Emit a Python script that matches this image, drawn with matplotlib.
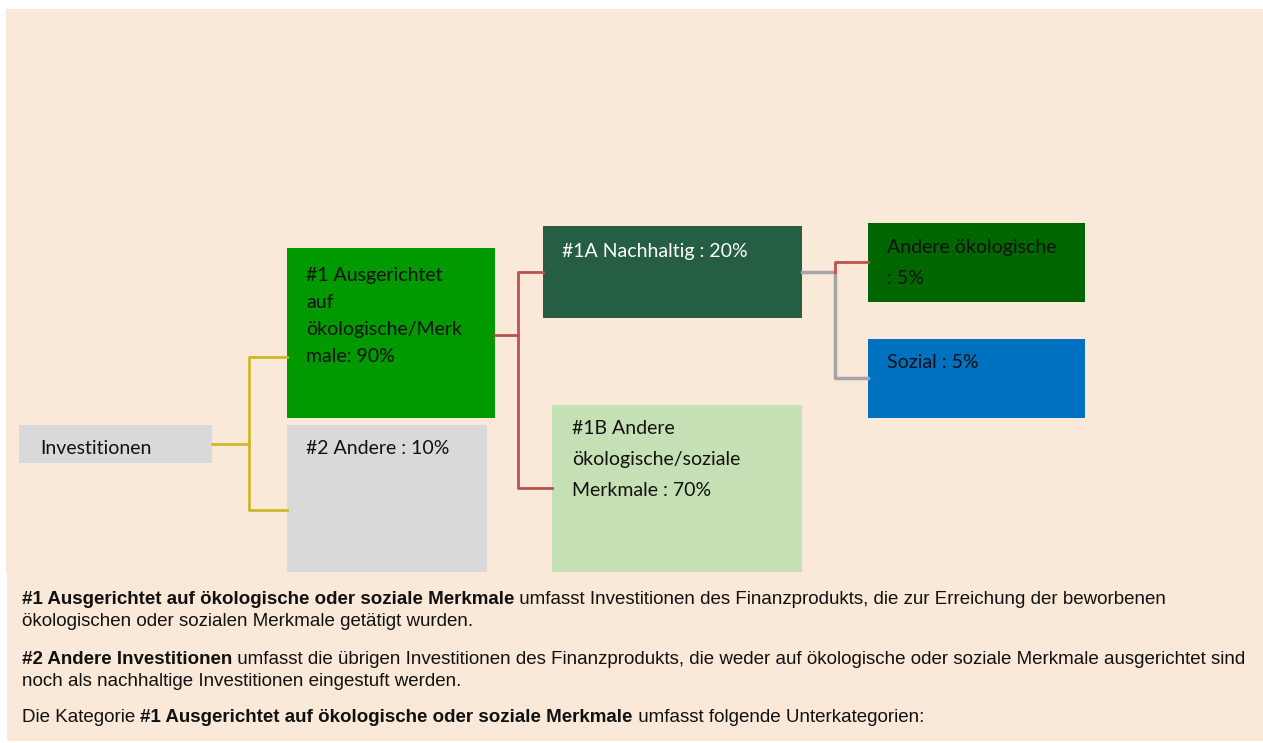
import matplotlib
matplotlib.use("Agg")
import matplotlib.pyplot as plt
from matplotlib.patches import Rectangle

# --- content -------------------------------------------------------------
box_labels = [
    "Investitionen",
    "#1 Ausgerichtet\nauf\nökologische/Merk\nmale: 90%",
    "#2 Andere : 10%",
    "#1A Nachhaltig : 20%",
    "#1B Andere\nökologische/soziale\nMerkmale : 70%",
    "Andere ökologische\n: 5%",
    "Sozial : 5%",
]
box_colors = ["#D9D9D9", "#009900", "#D9D9D9", "#255E43", "#C5E0B4", "#006600", "#0070C0"]
text_colors = ["#111111", "#111111", "#111111", "#FFFFFF", "#111111", "#111111", "#111111"]

# explanatory paragraphs: list of (text, bold) runs per line
notes = [
    [("#1 Ausgerichtet auf ökologische oder soziale Merkmale", True),
     (" umfasst Investitionen des Finanzprodukts, die zur Erreichung der beworbenen", False)],
    [("ökologischen oder sozialen Merkmale getätigt wurden.", False)],
    [("#2 Andere Investitionen", True),
     (" umfasst die übrigen Investitionen des Finanzprodukts, die weder auf ökologische oder soziale Merkmale ausgerichtet sind", False)],
    [("noch als nachhaltige Investitionen eingestuft werden.", False)],
    [("Die Kategorie ", False),
     ("#1 Ausgerichtet auf ökologische oder soziale Merkmale", True),
     (" umfasst folgende Unterkategorien:", False)],
]

# --- layout (pixels, origin top-left) -------------------------------------
W, H = 1263, 743
box_rects = [  # x0, y0, x1, y1
    (19, 425, 212, 463),
    (287, 248, 495, 418),
    (287, 425, 487, 572),
    (543, 226, 802, 318),
    (552, 405, 802, 572),
    (868, 223, 1085, 302),
    (868, 339, 1085, 418),
]
text_pos = [(40, 448), (306, 275), (306, 449), (562, 251), (572, 429), (887, 247), (887, 363)]
line_gap = [27, 27, 27, 27, 31, 32, 27]
note_y = [600, 622, 660, 682, 718]

fig = plt.figure(figsize=(W / 100, H / 100), dpi=100)
ax = fig.add_axes([0, 0, 1, 1])
ax.set_xlim(0, W)
ax.set_ylim(H, 0)
ax.axis("off")

# background panels
ax.add_patch(Rectangle((6, 9), W - 6, 564, color="#FAE8D8", lw=0))
ax.add_patch(Rectangle((7, 573), W - 7, 168, color="#FAE8D8", lw=0))

# connectors
yellow, red, grey = "#CDB72A", "#C0504D", "#A5A5A5"
ax.plot([212, 249, 249, 287], [444, 444, 357, 357], color=yellow, lw=2)
ax.plot([249, 249, 287], [444, 510, 510], color=yellow, lw=2)
ax.plot([495, 518, 518, 543], [335, 335, 272, 272], color=red, lw=2)
ax.plot([518, 518, 552], [335, 488, 488], color=red, lw=2)
ax.plot([802, 835, 835, 868], [272, 272, 378, 378], color=grey, lw=2.5)
ax.plot([835, 835, 868], [272, 262, 262], color=red, lw=2)

# boxes
for (x0, y0, x1, y1), fc in zip(box_rects, box_colors):
    ax.add_patch(Rectangle((x0, y0), x1 - x0, y1 - y0, color=fc, lw=0))

for label, (tx, ty), gap, tc in zip(box_labels, text_pos, line_gap, text_colors):
    for i, line in enumerate(label.split("\n")):
        ax.text(tx, ty + i * gap, line, color=tc, fontsize=14, family="Lato",
                va="center", ha="left")

# notes with bold runs, placed one after another
fig.canvas.draw()
renderer = fig.canvas.get_renderer()
inv = ax.transData.inverted()
for runs, y in zip(notes, note_y):
    x = 22
    for txt, bold in runs:
        t = ax.text(x, y, txt, fontsize=13.5, family="Liberation Sans",
                    fontweight="bold" if bold else "normal", color="#111111",
                    va="center", ha="left")
        bb = t.get_window_extent(renderer)
        x = inv.transform((bb.x1, bb.y0))[0]

fig.savefig("out.png", dpi=100)
